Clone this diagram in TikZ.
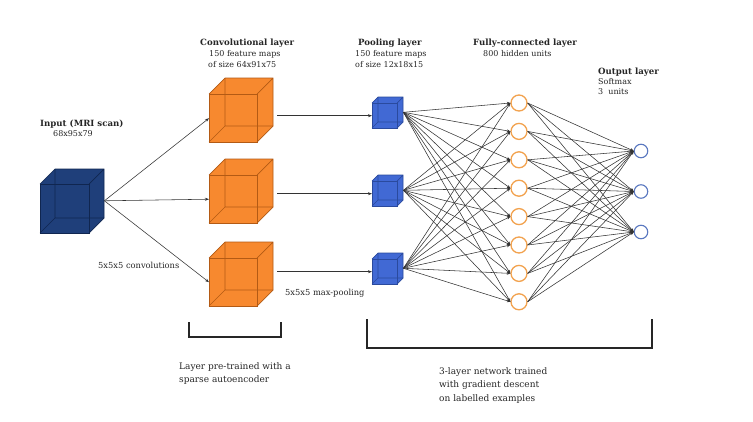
\documentclass[tikz,border=0pt]{standalone}
\usepackage{fontspec}
\setmainfont{DejaVu Serif}
\usepackage{tikz}
\usetikzlibrary{arrows.meta}

\definecolor{convorange}{HTML}{F7892F}
\definecolor{convedge}{HTML}{B35A14}
\definecolor{inblue}{HTML}{1F3F7A}
\definecolor{inedge}{HTML}{102650}
\definecolor{poolblue}{HTML}{4169D4}
\definecolor{pooledge}{HTML}{2A4A9E}
\definecolor{hidorange}{HTML}{F2A24E}
\definecolor{outblue}{HTML}{5A78C0}
\definecolor{linegray}{HTML}{333333}

% layer titles
\newcommand{\ttl}[1]{{\fontsize{8.6}{11}\selectfont\bfseries #1}}

% cube: name, x, y (front top left), size, depth, fill, edge
\newcommand{\drawcube}[7]{%
  \fill[#6] (#2,#3+#4) -- (#2,#3) -- ++(#5,-#5) -- ++(#4,0) -- ++(0,#4) -- (#2+#4,#3+#4) -- cycle;
  \draw[#7, line width=0.6pt] (#2,#3+#4) -- ++(#5,-#5) -- ++(0,-#4) (#2+#5,#3+#4-#5) -- ++(#4,0);
  \draw[#7, line width=0.7pt] (#2,#3) rectangle ++(#4,#4);
  \draw[#7, line width=0.7pt] (#2,#3) -- ++(#5,-#5) -- ++(#4,0) -- ++(0,#4) -- (#2+#4,#3+#4) (#2+#4,#3) -- ++(#5,-#5);
  \node[inner sep=0, minimum width={(#4+#5)*1pt}, minimum height={(#4+#5)*1pt}, anchor=south west] (#1) at (#2,#3+#4) {};
  \node[inner sep=0, minimum size={#4*1pt}, anchor=north west] (#1f) at (#2,#3) {};
}

\begin{document}
\begin{tikzpicture}[x=1pt, y=-1pt, font=\fontsize{8}{11}\selectfont,
    hid/.style = {draw=hidorange, fill=white, circle, line width=1.3pt, minimum size=16pt, inner sep=0},
    outn/.style = {draw=outblue, fill=white, circle, line width=1.1pt, minimum size=13.5pt, inner sep=0},
    arr/.style = {draw=linegray, line width=0.55pt, -{Stealth[length=4pt, width=3pt]}},
    conn/.style = {draw=linegray, line width=0.55pt, -{Stealth[length=3.5pt, width=3pt]}},
    lbl/.style = {inner sep=0, align=left, anchor=north west, text=black!85},
    big/.style = {font=\fontsize{9}{13.5}\selectfont},
    brk/.style = {draw=black!85, line width=1.6pt}]
    \fill[white] (0,0) rectangle (753,421);
    \useasboundingbox (0,0) rectangle (753,421);

    % cubes
    \drawcube{in}{40}{184}{49}{15}{inblue}{inedge}
    \drawcube{c1}{209}{94}{48}{16}{convorange}{convedge}
    \drawcube{c2}{209}{175}{48}{16}{convorange}{convedge}
    \drawcube{c3}{209}{258}{48}{16}{convorange}{convedge}
    \drawcube{p1}{372}{103}{25}{6}{poolblue}{pooledge}
    \drawcube{p2}{372}{181}{25}{6}{poolblue}{pooledge}
    \drawcube{p3}{372}{259}{25}{6}{poolblue}{pooledge}

    % units
    \foreach \i in {1,...,8}
        \node[hid] (h\i) at (519, 74.6+28.4*\i) {};
    \foreach \k in {1,2,3}
        \node[outn] (o\k) at (641, 110.5+40.5*\k) {};

    % connectors
    \foreach \c in {1,2,3} {
        \draw[arr] (in.east) -- (c\c f.west);
        \draw[arr, shorten <=20pt] (p\c f.west -| c\c f.east) -- (p\c f.west);
    }
    \foreach \p in {1,2,3}
        \foreach \i in {1,...,8}
            \draw[conn] (p\p.east) -- (h\i.west);
    \foreach \i in {1,...,8}
        \foreach \k in {1,2,3}
            \draw[conn] (h\i.east) -- (o\k.west);

    % labels
    \node[lbl] (tin) at (40, 120) {\ttl{Input (MRI scan)}\\[-1pt]\hspace*{13pt}68x95x79};
    \node[lbl] (tconv) at (200, 39) {\ttl{Convolutional layer}\\\hspace*{9pt}150 feature maps\\\hspace*{8pt}of size 64x91x75};
    \node[lbl] (tpool) at (355, 39) {\hspace*{3pt}\ttl{Pooling layer}\\150 feature maps\\of size 12x18x15};
    \node[lbl] (tfc) at (473, 39) {\ttl{Fully-connected layer}\\\hspace*{10pt}800 hidden units};
    \node[lbl] (tout) at (598, 68) {\ttl{Output layer}\\[-1pt]Softmax\\[-1pt]3\ \ units};
    \node[lbl, anchor=west, font=\fontsize{8.3}{11}\selectfont] (tconvop) at (98, 265) {5x5x5 convolutions};
    \node[lbl, anchor=west, font=\fontsize{8.3}{11}\selectfont] (tpoolop) at (285, 293) {5x5x5 max-pooling};
    \node[lbl, big] (tpre) at (179, 362) {Layer pre-trained with a\\sparse autoencoder};
    \node[lbl, big] (tgrad) at (439, 367) {3-layer network trained\\with gradient descent\\on labelled examples};

    % brackets
    \draw[brk] (189,322) -- (189,337) -- (281,337) -- (281,322);
    \draw[brk] (367,319) -- (367,348) -- (652,348) -- (652,319);
\end{tikzpicture}
\end{document}
